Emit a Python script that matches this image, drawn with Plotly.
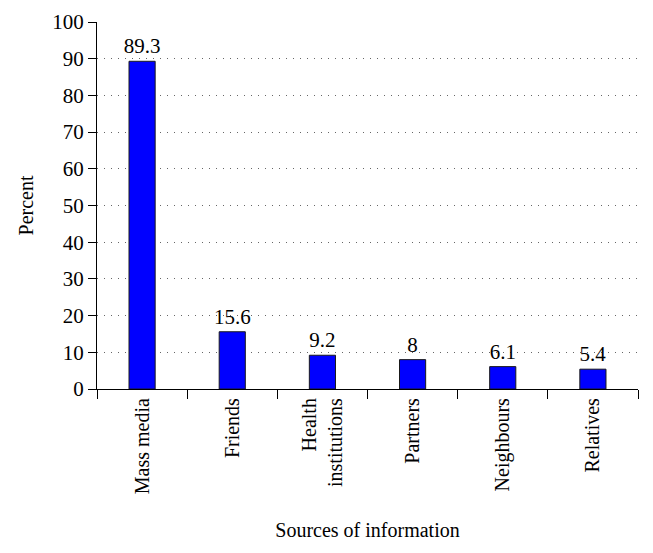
# bar chart: sources of information (percent)
import plotly.graph_objects as go

categories = ['Mass media', 'Friends', 'Health<br>institutions', 'Partners',
              'Neighbours', 'Relatives']
percent = [89.3, 15.6, 9.2, 8, 6.1, 5.4]
bar_labels = ['89.3', '15.6', '9.2', '8', '6.1', '5.4']
y_ticks = list(range(0, 101, 10))

font_family = 'Liberation Serif, Times New Roman, serif'

fig = go.Figure(go.Bar(
    x=categories, y=percent,
    marker=dict(color='#0000ff', line=dict(color='#1a1a1a', width=1)),
    width=0.29,
    text=bar_labels, textposition='outside', cliponaxis=False,
    constraintext='none',
    textfont=dict(size=21, color='black'),
))

fig.update_yaxes(
    range=[0, 100], tickvals=y_ticks, automargin=False,
    showgrid=True, gridcolor='#666666', gridwidth=1, griddash='1px,6px',
    showline=True, linecolor='black', linewidth=1.2,
    ticks='outside', ticklen=8, tickcolor='black', tickwidth=1.2,
    tickfont=dict(size=21),
    zeroline=False,
    title=dict(text='Percent', standoff=13, font=dict(size=20)),
)
fig.update_xaxes(
    tickangle=-90, tickson='boundaries', automargin=False,
    showline=True, linecolor='black', linewidth=1.2,
    ticks='outside', ticklen=9, tickcolor='black', tickwidth=1.2,
    tickfont=dict(size=20),
    range=[-0.5, 5.5],
    title=dict(text='Sources of information', standoff=29, font=dict(size=20)),
)
# page body has an 8px margin, so the figure is sized/offset to compensate
fig.update_layout(
    width=645, height=545,
    margin=dict(l=89, r=15, t=14, b=164),
    plot_bgcolor='white', paper_bgcolor='white',
    font=dict(family=font_family, size=20, color='black'),
    showlegend=False,
)

fig.write_html('out.html')
